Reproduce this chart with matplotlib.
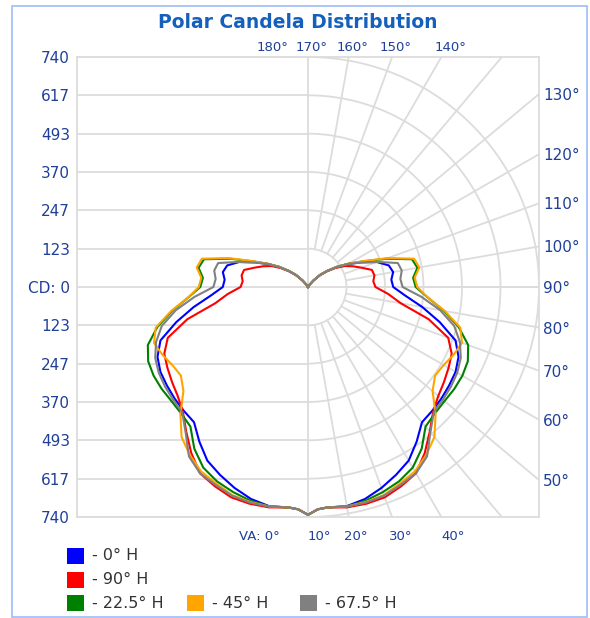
import numpy as np
import matplotlib.pyplot as plt
from matplotlib.patches import Rectangle

# vertical angles (deg, 0 = straight down) and candela per horizontal plane
angles = [0, 2.5, 5, 10, 15, 20, 25, 30, 35, 40, 45, 50, 55, 60, 65, 70, 75, 80, 85,
          90, 95, 100, 105, 110, 115, 120, 125, 130, 135, 140, 145, 150, 160, 170, 180]
cd_0 = [733, 716, 712, 716, 706, 688, 667, 645, 607, 568, 563, 558, 552, 546, 532, 503, 437, 372, 312,
        273, 268, 277, 268, 235, 188, 148, 112, 80, 55, 28, 10, 0, 0, 0, 0]
cd_90 = [733, 716, 712, 720, 722, 720, 707, 692, 652, 607, 567, 545, 532, 520, 508, 478, 400, 302, 258,
         216, 210, 216, 212, 182, 158, 135, 106, 78, 52, 26, 9, 0, 0, 0, 0]
cd_22 = [733, 716, 712, 717, 712, 702, 690, 671, 635, 586, 575, 571, 572, 571, 565, 546, 500, 442, 385,
         345, 338, 356, 345, 266, 195, 150, 114, 82, 56, 28, 10, 0, 0, 0, 0]
cd_45 = [733, 716, 712, 717, 716, 712, 697, 685, 660, 630, 578, 521, 497, 502, 515, 525, 505, 445, 385,
         350, 343, 362, 352, 272, 198, 150, 114, 82, 56, 28, 10, 0, 0, 0, 0]
cd_67 = [733, 716, 712, 717, 718, 714, 702, 692, 665, 610, 570, 564, 559, 552, 540, 518, 485, 430, 365,
         303, 297, 305, 298, 236, 186, 148, 112, 80, 55, 28, 10, 0, 0, 0, 0]

names = ['- 0° H', '- 90° H', '- 22.5° H', '- 45° H', '- 67.5° H']
colours = ['#0000ff', '#ff0000', '#008000', '#ffa500', '#808080']
series = [cd_0, cd_90, cd_22, cd_45, cd_67]

cd_max = 740
ring_vals = [cd_max * k / 6 for k in range(1, 7)]
spoke_angles = list(range(10, 180, 10))

top_labels = ['180°', '170°', '160°', '150°', '140°']
bottom_labels = ['VA: 0°', '10°', '20°', '30°', '40°']
right_angles = [130, 120, 110, 100, 90, 80, 70, 60, 50]

W, H = 590, 618
lab_col = '#1f3f99'
grid_col = '#dcdcdc'

fig = plt.figure(figsize=(W / 100, H / 100), dpi=100)
ax = fig.add_axes([77 / W, 1 - 517 / H, 462 / W, 460 / H])
ax.set_xlim(-cd_max, cd_max)
ax.set_ylim(-cd_max, cd_max)

def px2d(p):
    return (p - 308) * cd_max / 231.0

# left half: horizontal grid
for v in ring_vals:
    for s in (1, -1):
        ax.plot([-cd_max, 0], [s * v, s * v], color=grid_col, lw=1.3, zorder=1)
ax.plot([-cd_max, cd_max], [0, 0], color=grid_col, lw=1.3, zorder=1)
ax.plot([0, 0], [-cd_max, cd_max], color=grid_col, lw=1.3, zorder=1)

# right half: rings and spokes
t = np.linspace(0, np.pi, 300)
for v in ring_vals:
    ax.plot(v * np.sin(t), -v * np.cos(t), color=grid_col, lw=1.3, zorder=1)
for a in spoke_angles:
    rr = np.array([ring_vals[0], 3000])
    ar = np.radians(a)
    ax.plot(rr * np.sin(ar), -rr * np.cos(ar), color=grid_col, lw=1.3, zorder=1)

# candela curves, mirrored on both sides
th = np.radians(angles)
for vals, c in zip(series, colours):
    r = np.array(vals, dtype=float)
    x = np.concatenate([-r[::-1] * np.sin(th[::-1]), r * np.sin(th)])
    y = np.concatenate([-r[::-1] * np.cos(th[::-1]), -r * np.cos(th)])
    ax.plot(x, y, color=c, lw=1.5, zorder=3, solid_joinstyle='round')

for sp in ax.spines.values():
    sp.set_color(grid_col)
    sp.set_linewidth(1.3)

# left axis labels
yt = [v for v in ring_vals[::-1]] + [0] + [-v for v in ring_vals]
ylab = [str(int(round(v))) for v in ring_vals[::-1]] + ['CD: 0'] + [str(int(round(v))) for v in ring_vals]
ax.set_yticks(yt)
ax.set_yticklabels(ylab)
ax.tick_params(axis='y', length=0, pad=5, labelsize=11, labelcolor=lab_col)

# bottom labels
ax.set_xticks([px2d(p) for p in [259, 319, 356, 401, 453]])
ax.set_xticklabels(bottom_labels)
ax.tick_params(axis='x', length=0, pad=9, labelsize=9.5, labelcolor=lab_col)

# top labels
top = ax.secondary_xaxis('top')
top.set_xticks([px2d(p) for p in [272, 312, 353, 396, 450]])
top.set_xticklabels(top_labels)
top.tick_params(length=0, pad=2, labelsize=9.5, labelcolor=lab_col)
top.spines['top'].set_visible(False)

# right labels where spokes meet the frame
right = ax.secondary_yaxis('right')
right.set_yticks([-cd_max / np.tan(np.radians(a)) for a in right_angles])
right.set_yticklabels([f'{a}°' for a in right_angles])
right.tick_params(length=0, pad=3, labelsize=11, labelcolor=lab_col)
right.spines['right'].set_visible(False)

fig.text(298 / W, 1 - 22 / H, 'Polar Candela Distribution', ha='center', va='center',
         fontsize=13.5, fontweight='bold', color='#1560bd')

# legend
rows = [(0, 0), (1, 0), (2, 0), (2, 1), (2, 2)]
col_x = [67, 187, 300]
row_y = [556, 580, 603]
for (ri, ci), name, c in zip(rows, names, colours):
    x0, y0 = col_x[ci], row_y[ri]
    fig.add_artist(Rectangle((x0 / W, 1 - (y0 + 8) / H), 17 / W, 16 / H, transform=fig.transFigure,
                             facecolor=c, edgecolor='none'))
    fig.text((x0 + 25) / W, 1 - y0 / H, name, ha='left', va='center', fontsize=11.5, color='#333333')

# outer frame
fig.add_artist(Rectangle((12 / W, 1 - 617 / H), 575 / W, 611 / H, transform=fig.transFigure,
                         facecolor='none', edgecolor='#9dbdf5', lw=1.2))

fig.savefig('out.png', dpi=100)
